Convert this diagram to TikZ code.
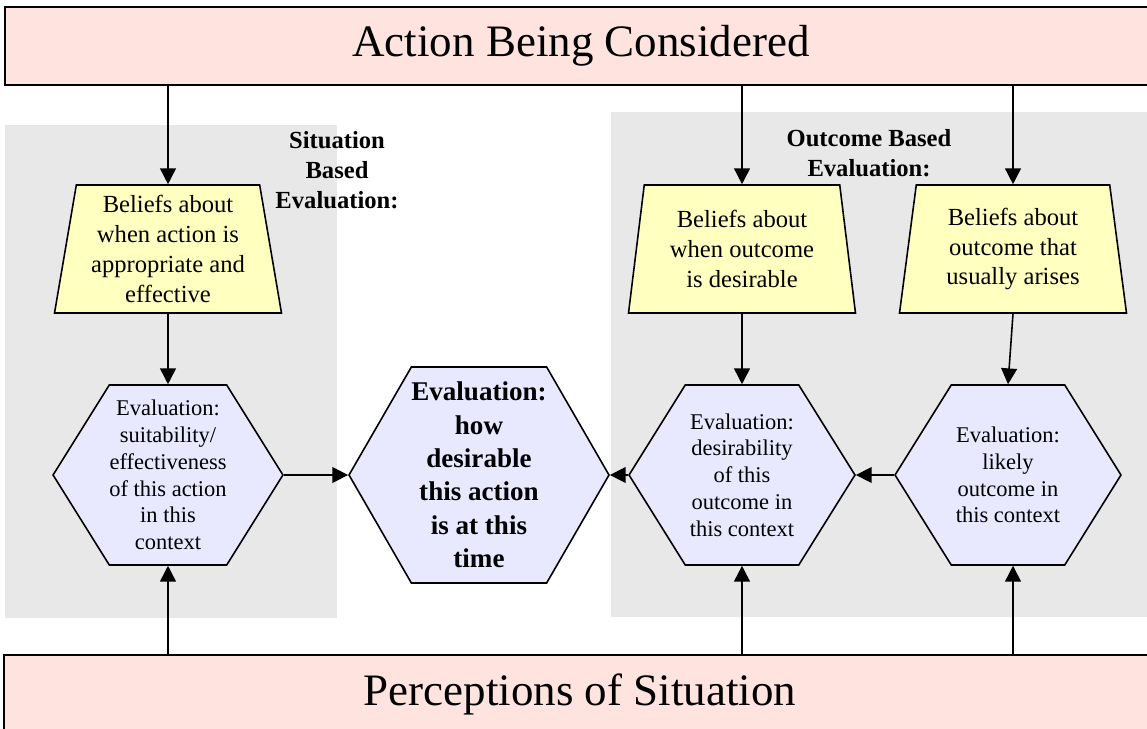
\documentclass[tikz,border=0pt]{standalone}
\usepackage{fontspec}
\setmainfont{Liberation Serif}
\usetikzlibrary{arrows.meta,shapes.geometric,shapes.symbols}
\definecolor{bpink}{HTML}{FFE3DE}
\definecolor{byellow}{HTML}{FFFFC0}
\definecolor{bviolet}{HTML}{E8E8FF}
\definecolor{bgrey}{HTML}{E8E8E8}

\tikzset{
  bar/.style={draw,line width=1.1pt,fill=bpink,minimum width=23.04cm,minimum height=1.56cm,
    font=\fontsize{25.6pt}{30pt}\selectfont},
  belief/.style={trapezium,trapezium angle=78.5,trapezium stretches body,draw,line width=0.9pt,
    fill=byellow,minimum width=4.54cm,minimum height=2.56cm,inner sep=0pt,align=center,
    font=\fontsize{14pt}{17pt}\selectfont},
  evalbox/.style={signal,signal to=east and west,signal pointer angle=116,draw,line width=0.9pt,
    fill=bviolet,minimum width=4.52cm,minimum height=3.6cm,inner sep=0pt,align=center,
    font=\fontsize{12.8pt}{15.2pt}\selectfont},
  evalmain/.style={evalbox,signal pointer angle=120,minimum width=4.96cm,minimum height=4.32cm,
    font=\fontsize{15.4pt}{19pt}\selectfont\bfseries},
  grouptitle/.style={align=center,inner sep=0pt,font=\fontsize{14pt}{17pt}\selectfont\bfseries},
  arr/.style={-{Triangle[length=9pt,width=9pt]},line width=0.9pt}
}

\begin{document}
\begin{tikzpicture}[x=0.02cm,y=-0.02cm]
  \useasboundingbox (0,0) rectangle (1147,729);
  \clip (0,0) rectangle (1147,729);

  % grey panels
  \fill[bgrey] (5,125) rectangle (337,618);
  \fill[bgrey] (611,112) rectangle (1150,617);

  % bars
  \node[bar] (act) at (581,46) {Action Being Considered};
  \node[bar] (per) at (580,694) {Perceptions of Situation};

  % beliefs
  \node[belief] (bsit) at (168,249) {Beliefs about\\when action is\\appropriate and\\effective};
  \node[belief] (bdes) at (742,249) {Beliefs about\\when outcome\\is desirable};
  \node[belief] (bout) at (1013,249) {Beliefs about\\outcome that\\usually arises};

  % evaluations
  \node[evalbox] (esit) at (168,475) {Evaluation:\\suitability/\\effectiveness\\of this action\\in this\\context};
  \node[evalmain] (emid) at (479,475) {Evaluation:\\how\\desirable\\this action\\is at this\\time};
  \node[evalbox] (edes) at (742,475) {Evaluation:\\desirability\\of this\\outcome in\\this context};
  \node[evalbox] (eout) at (1008,475) {Evaluation:\\likely\\outcome in\\this context};

  % group titles
  \node[grouptitle] (sitlbl) at (337,170) {Situation\\Based\\Evaluation:};
  \node[grouptitle] (outlbl) at (869,153) {Outcome Based\\Evaluation:};

  % arrows
  \draw[arr] (act.south -| bsit.north) -- (bsit.north);
  \draw[arr] (act.south -| bdes.north) -- (bdes.north);
  \draw[arr] (act.south -| bout.north) -- (bout.north);
  \draw[arr] (bsit.south) -- (esit.north);
  \draw[arr] (bdes.south) -- (edes.north);
  \draw[arr] (bout.south) -- (eout.north);
  \draw[arr] (per.north -| esit.south) -- (esit.south);
  \draw[arr] (per.north -| edes.south) -- (edes.south);
  \draw[arr] (per.north -| bout.south) -- (eout.south -| bout.south);
  \draw[arr] (esit.east) -- (emid.west);
  \draw[arr] (edes.west) -- (emid.east);
  \draw[arr] (eout.west) -- (edes.east);
\end{tikzpicture}
\end{document}
